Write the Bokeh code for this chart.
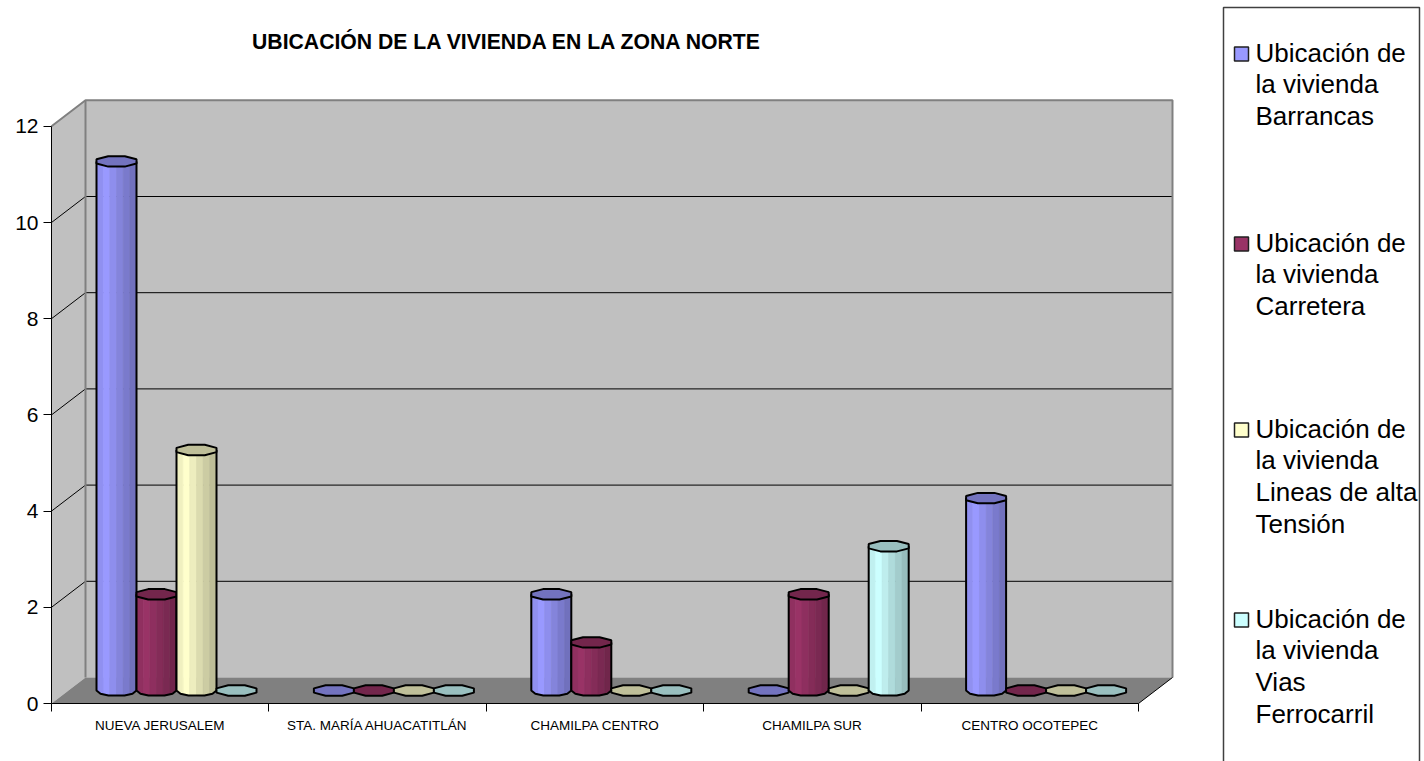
import numpy as np
from bokeh.core.properties import value
from bokeh.embed import file_html
from bokeh.models import FixedTicker, LinearAxis, Range1d
from bokeh.plotting import figure
from bokeh.resources import INLINE

TITLE = "UBICACIÓN DE LA VIVIENDA EN LA ZONA NORTE"
categories = ["NUEVA JERUSALEM", "STA. MARÍA AHUACATITLÁN", "CHAMILPA CENTRO", "CHAMILPA SUR", "CENTRO OCOTEPEC"]
barrancas = [11, 0, 2, 0, 4]
carretera = [2, 0, 1, 2, 0]
lineas = [5, 0, 0, 0, 0]
vias = [0, 0, 0, 3, 0]
legend_lines = [
    ["Ubicación de", "la vivienda", "Barrancas"],
    ["Ubicación de", "la vivienda", "Carretera"],
    ["Ubicación de", "la vivienda", "Lineas de alta", "Tensión"],
    ["Ubicación de", "la vivienda", "Vias", "Ferrocarril"],
]
series = [barrancas, carretera, lineas, vias]
colors = [(0x99, 0x99, 0xFF), (0x99, 0x33, 0x66), (0xFF, 0xFF, 0xCC), (0xCC, 0xFF, 0xFF)]

W, H = 1424, 761
PXX, PXY = 217.4, 48.1            # pixels per data unit
X0, Y0 = 51.0, 703.0              # pixel of the data origin
def X(px): return (px - X0) / PXX
def Y(py): return (Y0 - py) / PXY
def hexc(c, k=1.0): return "#%02x%02x%02x" % tuple(int(round(v * k)) for v in c)

p = figure(width=W, height=H, output_backend="svg", toolbar_location=None, x_axis_type=None, y_axis_type=None,
           x_range=Range1d(X(0), X(W)), y_range=Range1d(Y(H), Y(0)), min_border=0, outline_line_color=None)
p.xgrid.visible = False
p.ygrid.visible = False

DX, DY = 34 / PXX, 26 / PXY
WALL = "#c0c0c0"; EDGE = "#808080"
ymax, nc = 12, len(categories)
# walls and floor
p.patch([0, DX, DX, 0], [0, DY, ymax + DY, ymax], fill_color=WALL, line_color=None)
p.patch([DX, nc + DX, nc + DX, DX], [DY, DY, ymax + DY, ymax + DY], fill_color=WALL, line_color=None)
p.patch([0, DX, nc + DX, nc], [0, DY, DY, 0], fill_color=EDGE, line_color=None)
for v in range(2, ymax, 2):
    p.line([0, DX, nc + DX], [v, v + DY, v + DY], line_color="#000000", line_width=1)
p.line([0, DX, nc + DX, nc + DX], [ymax, ymax + DY, ymax + DY, DY], line_color=EDGE, line_width=2)
p.line([DX, DX], [DY, ymax + DY], line_color=EDGE, line_width=2)
p.line([nc, nc + DX], [0, DY], line_color="#000000", line_width=1)

# cylinders
BW = 40 / PXX; EH = 5.2 / PXY
GAP = 28 / PXX
cx0, cy0 = DX / 2, DY / 2
shades = [0.94, 1.0, 0.93, 0.86, 0.8, 0.74]
def half(u): return np.sqrt(np.clip(1 - u * u, 0, 1))
for i in range(nc):
    for j, s in enumerate(series):
        v = s[i]
        left = i + cx0 + GAP + j * BW
        mid = left + BW / 2
        base = cy0
        top = cy0 + v
        angles = np.linspace(0, 2 * np.pi, 9) + np.pi / 8
        ex = mid + BW / 2 * np.cos(angles) / np.cos(np.pi / 8)
        ey = top + EH * np.sin(angles) / np.cos(np.pi / 8)
        if v > 0:
            edges = np.linspace(-1, 1, len(shades) + 1)
            xs_s, ys_s, col_s = [], [], []
            for k, sh in enumerate(shades):
                a, b = edges[k], edges[k + 1]
                xa, xb = mid + a * BW / 2, mid + b * BW / 2
                xs_s.append([xa, xb, xb, xa])
                ys_s.append([base - EH * half(a), base - EH * half(b), top, top])
                col_s.append(hexc(colors[j], sh))
            un = np.array([-1, -0.8, -0.4, 0.4, 0.8, 1])
            ox = np.concatenate([[mid - BW / 2], mid + un * BW / 2, [mid + BW / 2]])
            oy = np.concatenate([[top], base - EH * half(un) * 1.05, [top]])
            p.patches(xs_s, ys_s, fill_color=col_s, line_color=col_s, line_width=0.6)
            p.line(ox, oy, line_color="#000000", line_width=2)
        p.patch(ex, ey, fill_color=hexc(colors[j], 0.75), line_color="#000000", line_width=2)

# axes
ya = LinearAxis(fixed_location=0, ticker=FixedTicker(ticks=list(range(0, ymax + 1, 2))), bounds=(0, ymax))
ya.axis_line_color = "#000000"; ya.major_tick_line_color = "#000000"
ya.major_tick_in = 0; ya.major_tick_out = 8; ya.minor_tick_out = 0; ya.minor_tick_in = 0
ya.major_label_text_font = "Liberation Sans"; ya.major_label_text_font_size = "21px"
ya.major_label_text_color = "#000000"; ya.major_label_standoff = 5
p.add_layout(ya, "left")

centers = [i + 0.5 for i in range(nc)]
xa = LinearAxis(fixed_location=0, bounds=(0, nc),
                ticker=FixedTicker(ticks=centers, minor_ticks=list(range(nc + 1))))
xa.major_label_overrides = {c: n for c, n in zip(centers, categories)}
xa.axis_line_color = "#000000"; xa.major_tick_line_color = None
xa.minor_tick_line_color = "#000000"; xa.minor_tick_out = 8; xa.minor_tick_in = 0
xa.major_label_text_font = "Liberation Sans"; xa.major_label_text_font_size = "13.5px"
xa.major_label_text_color = "#000000"; xa.major_label_standoff = 6; xa.major_label_orientation = "horizontal"
p.add_layout(xa, "below")

# title
p.text([X(507)], [Y(40.5)], text=[TITLE], text_font=value("Liberation Sans"), text_font_style="bold",
       text_font_size="21.2px", text_align="center", text_baseline="middle", text_color="#000000")

# legend (its box runs off the bottom of the picture, as in the reference)
p.quad(left=[X(1223)], right=[X(1419)], top=[Y(7)], bottom=[Y(790)], fill_color="#ffffff", line_color="#404040", line_width=1.5)
starts = [53, 243, 429, 619]
for lines, c, y0 in zip(legend_lines, colors, starts):
    p.quad(left=[X(1234)], right=[X(1248)], top=[Y(y0 - 6.5)], bottom=[Y(y0 + 7.5)], fill_color=hexc(c), line_color="#202020", line_width=1.5)
    for n, t in enumerate(lines):
        p.text([X(1255)], [Y(y0 - 1 + n * 31.7)], text=[t], text_font=value("Liberation Sans"), text_font_size="26px",
               text_align="left", text_baseline="middle", text_color="#000000")

open("out.html", "w").write(file_html(p, INLINE))
